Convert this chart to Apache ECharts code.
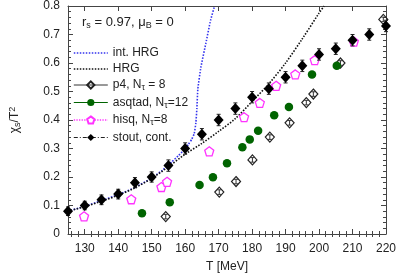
<!DOCTYPE html>
<html>
<head>
<meta charset="utf-8">
<script src="https://cdn.jsdelivr.net/npm/echarts@6/dist/echarts.min.js"></script>
<style>
html,body{margin:0;padding:0;background:#fff;}
#c{width:399px;height:278px;}
</style>
</head>
<body>
<div id="c"></div>
<script>
// ---- data ----
const xMajorTicks = [130,140,150,160,170,180,190,200,210,220];
const xMinorTicks = [126,128,132,134,136,138,142,144,146,148,152,154,156,158,162,164,166,168,172,174,176,178,182,184,186,188,192,194,196,198,202,204,206,208,212,214,216,218];

const intHrgT = [125,130,135,140,145,150,153,156,158,160,161,162,162.7,163.2,163.5,163.8,164.7,166.2,167.6,168.8];
const intHrgV = [0.080,0.097,0.117,0.138,0.163,0.197,0.222,0.253,0.275,0.299,0.315,0.333,0.352,0.39,0.44,0.51,0.585,0.67,0.75,0.80];

const hrgT = [125,130,135,140,145,150,155,160,165,170,175,180,185,190,195,200,201.5];
const hrgV = [0.080,0.096,0.115,0.136,0.162,0.195,0.236,0.280,0.318,0.360,0.405,0.465,0.527,0.600,0.685,0.775,0.800];

const p4T = [154.2,170.2,175.2,180.1,185.3,191.2,196.2,198.3,206.4,219.2];
const p4V = [0.061,0.147,0.184,0.260,0.340,0.390,0.461,0.491,0.600,0.753];
const p4E = [0.008,0.008,0.008,0.008,0.008,0.008,0.008,0.008,0.008,0.008];

const asqT = [147.1,155.4,164.3,168.3,172.5,177.1,179.3,181.8,186.6,191.0,197.9,205.3];
const asqV = [0.073,0.111,0.172,0.199,0.248,0.304,0.332,0.362,0.417,0.446,0.560,0.590];

const hisqT = [129.8,143.9,152.9,154.6,167.2,177.6,182.3,187.2,192.9,198.7,210.4];
const hisqV = [0.062,0.122,0.165,0.183,0.290,0.410,0.460,0.520,0.560,0.610,0.675];
const hisqE = [0.005,0.005,0.005,0.005,0.005,0.005,0.005,0.005,0.005,0.005,0.005];

const stoutT = [125,130,135,140,145,150,155,160,165,170,175,180,185,190,195,200,205,210,215,220];
const stoutV = [0.08,0.10,0.12,0.14,0.18,0.20,0.24,0.30,0.35,0.40,0.44,0.48,0.51,0.55,0.59,0.63,0.65,0.68,0.70,0.73];
const stoutE = [0.015,0.015,0.017,0.017,0.018,0.018,0.02,0.02,0.02,0.02,0.02,0.02,0.02,0.02,0.02,0.02,0.02,0.02,0.02,0.02];

const names = ['int. HRG','HRG','p4, Nτ = 8','asqtad, Nτ=12','hisq, Nτ=8','stout, cont.'];
const legendRich = {
  'p4, Nτ = 8': 'p4, N{sub|τ} = 8',
  'asqtad, Nτ=12': 'asqtad, N{sub|τ}=12',
  'hisq, Nτ=8': 'hisq, N{sub|τ}=8'
};

// ---- build ----
const zip = (a,b) => a.map((x,i)=>[x,b[i]]);
const zip3 = (a,b,c) => a.map((x,i)=>[x,b[i],c[i]]);
const pentagon = 'path://M0,-1 L0.951,-0.309 L0.588,0.809 L-0.588,0.809 L-0.951,-0.309 Z';

function errBar(color, cap){
  return function(params, api){
    const x = api.value(0), y = api.value(1), e = api.value(2);
    const lo = api.coord([x, y - e]);
    const hi = api.coord([x, y + e]);
    const style = {stroke: color, lineWidth: 1};
    return {type:'group', children:[
      {type:'line', shape:{x1:lo[0],y1:lo[1],x2:hi[0],y2:hi[1]}, style},
      {type:'line', shape:{x1:lo[0]-cap,y1:lo[1],x2:lo[0]+cap,y2:lo[1]}, style},
      {type:'line', shape:{x1:hi[0]-cap,y1:hi[1],x2:hi[0]+cap,y2:hi[1]}, style}
    ]};
  };
}

const axisCol = '#444';
const font = 'Liberation Sans, Arial, sans-serif';
const chart = echarts.init(document.getElementById('c'), null, {renderer:'canvas'});

const xBase = {type:'value', min:125, max:220, splitLine:{show:false},
  axisLine:{show:true, onZero:false, lineStyle:{color:axisCol, width:1}}};

chart.setOption({
  animation:false,
  backgroundColor:'#fff',
  textStyle:{fontFamily:font},
  grid:{left:60, right:12, top:5, bottom:39, containLabel:false},
  xAxis:[
    Object.assign({}, xBase, {position:'bottom',
      axisTick:{show:true, inside:true, length:5, customValues:xMajorTicks, lineStyle:{color:axisCol}},
      axisLabel:{show:true, customValues:xMajorTicks, color:'#222', fontSize:12, margin:9, fontFamily:font},
      name:'T [MeV]', nameLocation:'middle', nameGap:27, nameTextStyle:{color:'#222', fontSize:12, fontFamily:font}}),
    Object.assign({}, xBase, {position:'bottom', axisLine:{show:false},
      axisTick:{show:true, inside:true, length:3, customValues:xMinorTicks, lineStyle:{color:axisCol}},
      axisLabel:{show:false}}),
    Object.assign({}, xBase, {position:'top',
      axisTick:{show:true, inside:true, length:5, customValues:xMajorTicks, lineStyle:{color:axisCol}},
      axisLabel:{show:false}}),
    Object.assign({}, xBase, {position:'top', axisLine:{show:false},
      axisTick:{show:true, inside:true, length:3, customValues:xMinorTicks, lineStyle:{color:axisCol}},
      axisLabel:{show:false}})
  ],
  yAxis:[
    {type:'value', min:0, max:0.8, interval:0.1, position:'left', splitLine:{show:false},
      axisLine:{show:true, onZero:false, lineStyle:{color:axisCol}},
      axisTick:{show:true, inside:true, length:5, lineStyle:{color:axisCol}},
      minorTick:{show:true, splitNumber:5, length:3, lineStyle:{color:axisCol}},
      axisLabel:{color:'#222', fontSize:12, margin:8, fontFamily:font,
        formatter:v => v===0 ? '0' : v.toFixed(1)},
      name:'χ{sub|s}/T{sup|2}', nameLocation:'middle', nameRotate:90, nameGap:46,
      nameTextStyle:{color:'#222', fontSize:12, fontFamily:font,
        rich:{sub:{fontSize:9, verticalAlign:'bottom', padding:[5,0,0,0]}, sup:{fontSize:9, verticalAlign:'top', padding:[0,0,5,0]}}}},
    {type:'value', min:0, max:0.8, interval:0.1, position:'right', splitLine:{show:false},
      axisLine:{show:true, onZero:false, lineStyle:{color:axisCol}},
      axisTick:{show:true, inside:true, length:5, lineStyle:{color:axisCol}},
      minorTick:{show:true, splitNumber:5, length:3, lineStyle:{color:axisCol}},
      axisLabel:{show:false}}
  ],
  legend:{
    orient:'vertical', left:68, top:42, itemWidth:34, itemHeight:9, itemGap:4,
    textStyle:{color:'#222', fontSize:12, fontFamily:font,
      rich:{sub:{fontSize:9, verticalAlign:'bottom', padding:[6,0,0,0]}}},
    formatter: n => legendRich[n] || n,
    data:[
      {name:names[0], itemStyle:{opacity:0}, lineStyle:{opacity:1, width:1.6, color:'#3333ee', type:[1.5,1.5]}},
      {name:names[1], itemStyle:{opacity:0}, lineStyle:{opacity:1, width:1.6, color:'#111', type:[1.5,1.5]}},
      {name:names[2], lineStyle:{opacity:1, width:1, color:'#333', type:'solid'}},
      {name:names[3], lineStyle:{opacity:1, width:1, color:'#006400', type:'solid'}},
      {name:names[4], lineStyle:{opacity:1, width:1.3, color:'#ff33ff', type:'dotted'}},
      {name:names[5], lineStyle:{opacity:1, width:1, color:'#222', type:[4,2,1,2]}}
    ]
  },
  graphic:[{
    type:'text', left:82, top:16,
    style:{text:'r{sub|s} = 0.97, μ{sub|B} = 0', fill:'#222', fontSize:13, fontFamily:font,
      rich:{sub:{fontSize:9, verticalAlign:'bottom', padding:[6,0,0,0], fill:'#222'}}}
  }],
  series:[
    {name:names[0], type:'line', data:zip(intHrgT,intHrgV), symbol:'none', showSymbol:false, smooth:0.15,
      lineStyle:{color:'#3333ee', width:1.6, type:[1.5,1.5]}, itemStyle:{color:'#3333ee'}, z:2},
    {name:names[1], type:'line', data:zip(hrgT,hrgV), symbol:'none', showSymbol:false, smooth:0.3,
      lineStyle:{color:'#111', width:1.6, type:[1.5,1.5]}, itemStyle:{color:'#111'}, z:2},
    {type:'custom', data:zip3(p4T,p4V,p4E), renderItem:errBar('#333',2), z:3, silent:true},
    {name:names[2], type:'line', data:zip(p4T,p4V), symbol:'diamond', symbolSize:[9,10], showSymbol:true,
      lineStyle:{opacity:0}, itemStyle:{color:'rgba(255,255,255,0)', borderColor:'#222', borderWidth:1.2}, z:4},
    {name:names[3], type:'line', data:zip(asqT,asqV), symbol:'circle', symbolSize:8.5, showSymbol:true,
      lineStyle:{opacity:0}, itemStyle:{color:'#006400', borderWidth:0}, z:4},
    {type:'custom', data:zip3(hisqT,hisqV,hisqE), renderItem:errBar('#ff33ff',2), z:5, silent:true},
    {name:names[4], type:'line', data:zip(hisqT,hisqV), symbol:pentagon, symbolSize:9, showSymbol:true,
      lineStyle:{opacity:0}, itemStyle:{color:'#fff', borderColor:'#ff33ff', borderWidth:1.3}, z:5},
    {type:'custom', data:zip3(stoutT,stoutV,stoutE), renderItem:errBar('#222',2), z:6, silent:true},
    {name:names[5], type:'line', data:zip(stoutT,stoutV), symbol:'diamond', symbolSize:[10,11], showSymbol:true,
      lineStyle:{opacity:0}, itemStyle:{color:'#000', borderWidth:0}, z:7}
  ]
});
</script>
</body>
</html>
